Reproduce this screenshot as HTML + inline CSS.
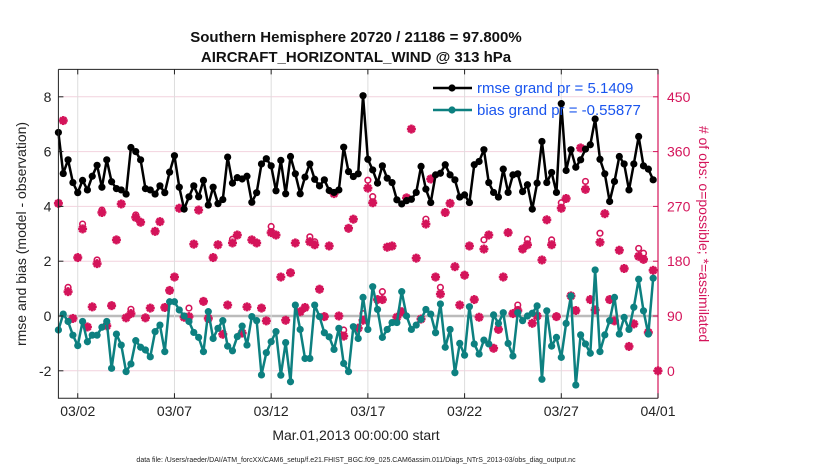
<!DOCTYPE html>
<html><head><meta charset="utf-8"><style>
body{margin:0;background:#fff;width:830px;height:470px;overflow:hidden;font-family:"Liberation Sans",sans-serif}
svg text{font-family:"Liberation Sans",sans-serif}
</style></head><body>
<svg id="chart" width="830" height="470" xmlns="http://www.w3.org/2000/svg">
<g id="grid"></g><g id="marks"></g><g id="axes"></g>
</svg>
<script>
const xTickLabels=["03/02","03/07","03/12","03/17","03/22","03/27","04/01"];
const xTickDays=[1,6,11,16,21,26,31];
const leftTicks=[-2,0,2,4,6,8];
const rightTicks=[0,90,180,270,360,450];
const rmse=[6.7,5.2,5.7,4.87,4.5,4.95,4.6,5.1,5.5,4.7,5.7,4.9,4.65,4.6,4.45,6.15,6.0,5.7,4.65,4.6,4.45,4.75,4.5,5.25,5.85,4.7,3.9,4.35,4.75,4.35,4.95,4.05,4.7,4.1,4.25,5.8,4.85,5.05,5.0,5.1,4.15,4.5,5.55,
5.74,5.48,4.57,5.68,4.46,5.82,5.19,4.46,5.07,5.55,4.99,4.75,4.97,4.58,4.51,4.6,6.16,5.27,5.09,5.19,8.04,5.72,5.33,4.85,5.48,5.03,4.87,4.24,4.09,4.21,
4.26,4.51,5.46,4.63,4.14,5.15,5.21,5.52,5.15,4.97,4.34,4.42,4.14,5.52,5.64,6.07,4.87,4.51,4.34,5.36,4.51,5.15,5.19,4.54,4.79,3.9,4.85,6.37,
4.87,5.24,4.51,7.75,5.31,6.07,5.43,5.7,6.09,6.25,7.19,5.72,5.19,4.18,4.91,5.82,5.55,4.6,5.55,6.55,5.48,5.36,4.97];
const bias=[-0.51,0.07,-0.2,-0.7,-1.08,-0.2,-0.94,-0.7,-0.7,-0.41,-0.2,-1.91,-0.66,-1.06,-2.03,-1.75,-0.9,-1.14,-1.24,-1.49,-0.57,-0.33,-1.3,0.52,0.52,0.22,0,-0.2,-0.6,-0.78,-1.3,0.16,-0.82,-0.45,-0.17,-1.1,-1.27,-0.75,-0.37,-1.06,-0.02,-0.17,-2.15,
-1.34,-0.94,-0.57,-2.16,-0.97,-2.4,0.4,-0.49,-1.55,-1.55,0.4,-0.02,-0.61,-0.76,-1.22,-0.45,-1.73,-2.03,-0.39,-0.82,0.68,-0.49,1.07,0.24,-0.78,-0.49,-0.24,-0.24,0.89,0,
-0.49,-0.33,-0.12,0.24,0.07,-0.61,0.44,-1.14,-0.49,-2.07,-1.0,-1.43,0.34,-1.02,-1.39,-0.88,-1.02,0.04,-0.27,0.12,-1.0,-1.46,0.12,-0.17,0,0.1,0.37,-2.31,
0.19,-1.1,-0.78,-1.51,-0.27,0.73,-2.52,-0.69,-1.02,-1.36,1.68,-1.3,-0.69,-0.17,0.68,-0.66,-0.05,-0.49,0.32,1.34,0.19,-0.66,1.38];
const assimilated=[275,411,130,86,186,233,72,105,176,260,74,107,215,274,87,94,252,244,87,103,229,245,104,132,154,267,88,89,208,264,114,86,186,207,60,108,210,223,62,105,215,210,103,
82,227,223,154,83,161,210,97,104,212,207,134,89,205,291,90,57,234,249,70,83,300,276,117,117,203,205,88,97,284,
397,185,85,241,315,154,126,260,275,171,108,157,205,117,88,200,223,37,68,154,227,94,99,200,207,78,90,182,
248,207,89,267,283,123,99,366,298,117,100,211,258,117,82,198,168,40,77,188,183,63,165,0];
const possible=[275,411,137,86,186,241,72,105,182,264,74,107,215,274,87,101,256,244,87,103,229,245,104,132,154,267,88,103,208,264,114,86,186,207,60,108,216,223,62,105,215,210,103,
82,237,223,154,83,161,210,97,104,220,212,134,89,205,291,90,67,234,249,70,94,313,286,117,130,203,205,88,97,284,
397,185,85,249,315,154,137,260,275,171,108,157,205,117,88,215,223,37,68,154,227,94,108,200,216,78,90,182,
248,215,89,276,283,123,99,366,311,117,100,226,258,117,82,198,168,40,77,201,193,63,165,0];

const NS="http://www.w3.org/2000/svg";
const L=58.4,R=658,T=69.4,B=398.2;
const xDay=d=>L+(d/31)*(R-L);
const yL=v=>B-(v+3)/12*(B-T);
const yR=v=>yL(v/45-2);
const xIdx=i=>xDay(i/4);
function mk(tag,attrs,parent,txt){const e=document.createElementNS(NS,tag);for(const k in attrs)e.setAttribute(k,attrs[k]);if(txt!==undefined)e.textContent=txt;parent.appendChild(e);return e;}
const grid=document.getElementById('grid'),marks=document.getElementById('marks'),axes=document.getElementById('axes'),svg=document.getElementById('chart');
const CR="#d4145a";
// gridlines
leftTicks.forEach(v=>{const g=mk('line',{x1:L,x2:R,y1:yL(v),y2:yL(v),stroke:v===0?"#bbbbbb":"#f2d2de","stroke-width":v===0?2.5:1},grid);

});
xTickDays.forEach(d=>{const g=mk('line',{x1:xDay(d),x2:xDay(d),y1:T,y2:B,stroke:"#dddddd","stroke-width":1},grid);

});
// possible circles
possible.forEach((v,i)=>{const c=mk('circle',{cx:xIdx(i),cy:yR(v),r:2.8,fill:"#fff",stroke:CR,"stroke-width":1.6},marks);

});
// assimilated stars
assimilated.forEach((v,i)=>{const x=xIdx(i),y=yR(v);const g=mk('g',{},marks);


for(let a=0;a<4;a++){const t=a*Math.PI/4,dx=4.5*Math.cos(t),dy=4.5*Math.sin(t);mk('line',{x1:x-dx,y1:y-dy,x2:x+dx,y2:y+dy,stroke:CR,"stroke-width":2.6},g);}
mk('circle',{cx:x,cy:y,r:2.6,fill:CR},g);});
function series(arr,color,name){const p=mk('polyline',{points:arr.map((v,i)=>xIdx(i)+","+yL(v)).join(" "),fill:"none",stroke:color,"stroke-width":2.5,"stroke-linejoin":"round"},marks);


arr.forEach((v,i)=>{const c=mk('circle',{cx:xIdx(i),cy:yL(v),r:3.6,fill:color},marks);

});}
series(bias,"#0d8080","bias");
series(rmse,"#000000","rmse");
// axes box
const f=mk('path',{d:`M${L},${T}H${R}M${L},${T}V${B}H${R}`,fill:"none",stroke:"#222","stroke-width":1},axes);


const ra=mk('line',{x1:R,x2:R,y1:T,y2:B,stroke:CR,"stroke-width":1.2},axes);


leftTicks.forEach(v=>{mk('line',{x1:L,x2:L+5,y1:yL(v),y2:yL(v),stroke:"#222"},axes);
const t=mk('text',{x:L-7,y:yL(v)+5,"text-anchor":"end","font-size":14,fill:"#222"},axes,String(v));

});
rightTicks.forEach(v=>{mk('line',{x1:R-5,x2:R,y1:yR(v),y2:yR(v),stroke:CR},axes);
const t=mk('text',{x:R+9,y:yR(v)+5,"font-size":14,fill:CR},axes,String(v));

});
xTickDays.forEach((d,i)=>{mk('line',{x1:xDay(d),x2:xDay(d),y1:B-5,y2:B,stroke:"#222"},axes);mk('line',{x1:xDay(d),x2:xDay(d),y1:T,y2:T+5,stroke:"#222"},axes);
const t=mk('text',{x:xDay(d),y:B+18,"text-anchor":"middle","font-size":14,fill:"#222"},axes,xTickLabels[i]);

});
// legend
[["rmse grand pr = 5.1409","#000",88,"legend-entry-rmse"],["bias grand pr = -0.55877","#0d8080",110,"legend-entry-bias"]].forEach(e=>{const g=mk('g',{},axes);


mk('line',{x1:433,x2:472,y1:e[2],y2:e[2],stroke:e[1],"stroke-width":2.5},g);mk('circle',{cx:452,cy:e[2],r:3.6,fill:e[1]},g);
mk('text',{x:477,y:e[2]+5,"font-size":15,fill:"#1a55ee"},g,e[0]);});
</script>
<svg style="position:absolute;left:0;top:0" width="830" height="470" xmlns="http://www.w3.org/2000/svg">
<text x="356" y="42" text-anchor="middle" font-size="15" font-weight="bold" fill="#111">Southern Hemisphere 20720 / 21186 = 97.800%</text>
<text x="356" y="62" text-anchor="middle" font-size="15" font-weight="bold" fill="#111">AIRCRAFT_HORIZONTAL_WIND @ 313 hPa</text>
<text transform="translate(26,234) rotate(-90)" text-anchor="middle" font-size="14" fill="#222">rmse and bias (model - observation)</text>
<text transform="translate(699,234) rotate(90)" text-anchor="middle" font-size="14" fill="#d4145a"># of obs: o=possible; *=assimilated</text>
<text x="356" y="440" text-anchor="middle" font-size="14" fill="#222">Mar.01,2013 00:00:00 start</text>
<text x="356" y="462" text-anchor="middle" font-size="7" fill="#222">data file: /Users/raeder/DAI/ATM_forcXX/CAM6_setup/f.e21.FHIST_BGC.f09_025.CAM6assim.011/Diags_NTrS_2013-03/obs_diag_output.nc</text>
</svg>
</body></html>
